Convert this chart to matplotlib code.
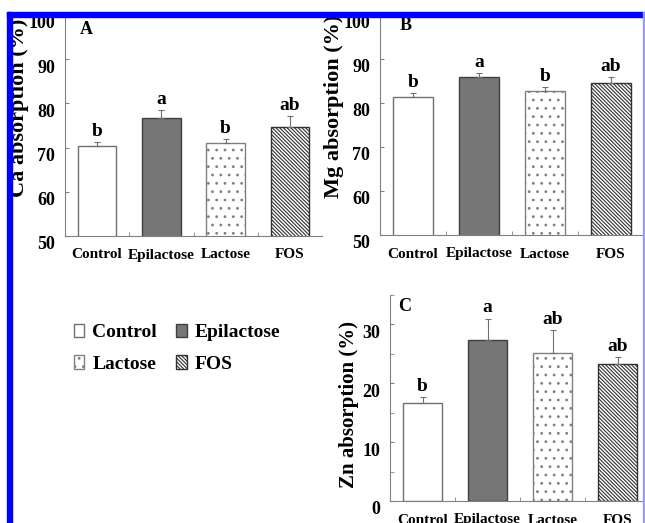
import matplotlib
matplotlib.use("Agg")
import matplotlib.pyplot as plt
import matplotlib.transforms as mtransforms
from matplotlib.patches import Patch, Rectangle
import numpy as np

plt.rcParams['font.family'] = ['Liberation Serif', 'DejaVu Serif']
plt.rcParams['font.weight'] = 'bold'
plt.rcParams['hatch.linewidth'] = 0.8

# data
groups = ["Control", "Epilactose", "Lactose", "FOS"]
ca_mean = [70.4, 76.6, 71.0, 74.7]
ca_err = [0.9, 1.9, 1.0, 2.4]
ca_sig = ["b", "a", "b", "ab"]
mg_mean = [81.4, 85.8, 82.8, 84.6]
mg_err = [0.8, 1.0, 0.9, 1.2]
mg_sig = ["b", "a", "b", "ab"]
zn_mean = [16.6, 27.4, 25.2, 23.3]
zn_err = [1.1, 3.6, 3.8, 1.2]
zn_sig = ["b", "a", "ab", "ab"]

# bar styles
faces = ["white", "#767676", "white", "white"]
edges = ["#707070", "#404040", "#808080", "#303030"]
hatches = [None, None, "..", "\\" * 9]

axis_grey = "#808080"

fig = plt.figure(figsize=(6.45, 5.23), dpi=100)


def panel(rect, means, errs, sig, ylim, ymaj, yminor, ylabel, letter, lab_xy, lab_size, letter_xy):
    ax = fig.add_axes(rect)
    x = np.arange(len(groups))
    for i in range(len(groups)):
        ax.bar(x[i], means[i], width=0.6, color=faces[i], edgecolor=edges[i],
               hatch=hatches[i], linewidth=1.0, zorder=2)
    ax.errorbar(x, means, yerr=[np.zeros(len(errs)), errs], fmt="none",
                ecolor="#707070", elinewidth=0.8, capsize=2, capthick=0.8, zorder=3)
    for i in range(len(groups)):
        ax.annotate(sig[i], (x[i], means[i] + errs[i]), xytext=(0, 1.5),
                    textcoords="offset points", ha="center", va="bottom",
                    fontsize=14, fontweight="bold")
    ax.set_xlim(-0.5, 3.5)
    ax.set_ylim(*ylim)
    ax.set_yticks(ymaj)
    ax.set_yticks(yminor, minor=True)
    ax.set_xticks(x)
    ax.set_xticklabels(groups, fontsize=11, fontweight="bold")
    ax.set_xticks([0.5, 1.5, 2.5], minor=True)
    ax.tick_params(axis="x", which="major", length=0, pad=9)
    ax.tick_params(axis="x", which="minor", direction="in", length=3, color=axis_grey)
    ax.tick_params(axis="y", which="both", direction="in", length=3, color=axis_grey,
                   labelsize=13, pad=7)
    for s in ["top", "right"]:
        ax.spines[s].set_visible(False)
    for s in ["left", "bottom"]:
        ax.spines[s].set_color(axis_grey)
        ax.spines[s].set_linewidth(0.8)
    shift = mtransforms.ScaledTranslation(0, -5 / 72, fig.dpi_scale_trans)
    for lbl in ax.get_yticklabels():
        lbl.set_transform(lbl.get_transform() + shift)
    ax.text(letter_xy[0], letter_xy[1], letter, transform=ax.transAxes,
            fontsize=13, fontweight="bold", ha="left", va="top")
    fig.text(lab_xy[0] / 645, 1 - lab_xy[1] / 523, ylabel, rotation=90,
             ha="center", va="center", fontsize=lab_size, fontweight="bold")
    return ax


panel([65 / 645, 287 / 523, 257 / 645, 221 / 523], ca_mean, ca_err, ca_sig,
      (50, 100), [50, 60, 70, 80, 90, 100], [], "Ca absorption (%)", "A",
      (19, 108), 16, (0.058, 0.975))
panel([380 / 645, 288 / 523, 264 / 645, 220 / 523], mg_mean, mg_err, mg_sig,
      (50, 100), [50, 60, 70, 80, 90, 100], [], "Mg absorption (%)", "B",
      (334, 106), 16, (0.075, 0.99))
panel([390 / 645, 22 / 523, 260 / 645, 206 / 523], zn_mean, zn_err, zn_sig,
      (0, 35), [0, 10, 20, 30], [5, 15, 25, 35], "Zn absorption (%)", "C",
      (349, 404), 15, (0.03, 0.985))

# legend
handles = [Patch(facecolor=faces[i], edgecolor=edges[i], hatch=hatches[i], linewidth=1.0)
           for i in [0, 2, 1, 3]]
labels = [groups[i] for i in [0, 2, 1, 3]]
fig.legend(handles, labels, ncol=2, frameon=False, loc="upper left",
           bbox_to_anchor=(64 / 645, 1 - 314 / 523), borderpad=0,
           prop={"size": 14, "weight": "bold"}, handlelength=0.55,
           handleheight=0.7, handletextpad=0.4, labelspacing=0.7,
           columnspacing=1.0)

# blue frame of the cropped figure
fig.add_artist(Rectangle((7 / 645, 1 - 17 / 523), 638 / 645, 5 / 523,
                         transform=fig.transFigure, color="#0000ff", zorder=10))
fig.add_artist(Rectangle((7 / 645, 0), 5 / 645, 1 - 12 / 523,
                         transform=fig.transFigure, color="#0000ff", zorder=10))
fig.add_artist(Rectangle((642.5 / 645, 0), 2.5 / 645, 1 - 12 / 523,
                         transform=fig.transFigure, color="#9a9aff", zorder=10))

fig.savefig("out.png", dpi=100)
